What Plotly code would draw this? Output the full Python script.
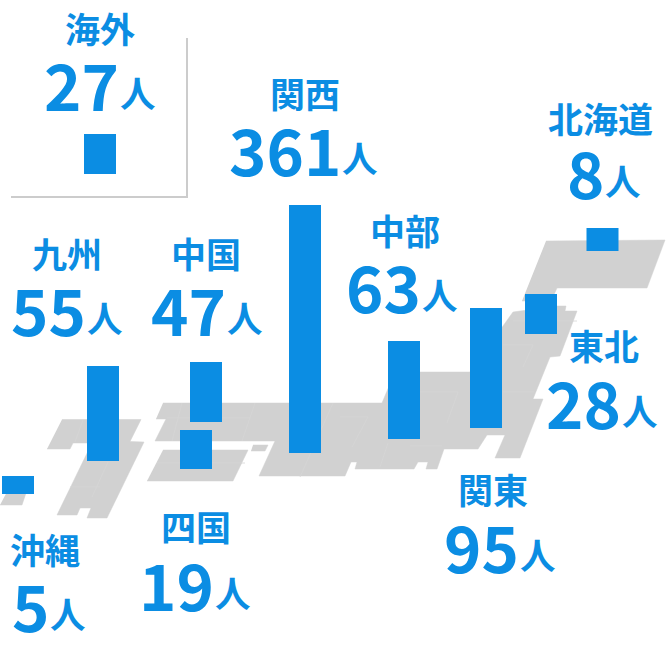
import plotly.graph_objects as go

# --- data -------------------------------------------------------------
regions = ["海外", "関西", "北海道", "東北", "関東", "中部", "中国", "四国", "九州", "沖縄"]
counts = [27, 361, 8, 28, 95, 63, 47, 19, 55, 5]
# bar heights as drawn in the picture (not linear in the counts)
bar_heights = [40, 248, 23, 40, 120, 98, 60, 39, 95, 18]

# --- placement --------------------------------------------------------
bar_centres = [100, 305, 602.5, 541, 486, 404, 206, 196, 103, 18]
bar_feet = [174, 453, 251, 334, 428, 439, 422, 469, 461, 494]
name_centres = [99.5, 305, 600.5, 603.5, 492.5, 404.5, 205.5, 195.5, 66.5, 44.5]
name_ys = [27.5, 92.5, 117.5, 344.5, 488.5, 229.5, 252.5, 525.5, 252.5, 548.5]
num_rights = [119, 340.5, 604, 621, 519, 421, 226, 214, 86, 49]
num_ys = [83, 148, 171, 401, 545, 285, 308, 583, 308, 604]

BLUE = "#0b8de3"
GREY = "#d1d1d1"
EDGE = "#d6d6d6"

kyushu_x = [62, 141, 130, 144, 107, 87, 91, 80, 77, 57, 92, 73, 70, 47]
kyushu_y = [419.5, 419.5, 441.5, 442, 518, 518, 508, 508, 515, 515, 443, 443, 449, 449]
okinawa_x = [8, 27, 22, 0]
okinawa_y = [490, 490, 505, 505]
shikoku_x = [163, 248, 233, 147]
shikoku_y = [450, 450, 481, 481]
awaji_x = [253, 268, 265, 251]
awaji_y = [445, 445, 451, 451]
hokkaido_x = [546, 665, 647, 557, 551, 522]
hokkaido_y = [241, 240, 288, 288, 301, 301]
honshu_x = [163, 382, 395, 470, 513, 557, 566, 565, 577, 560, 550, 533, 543, 520, 495, 505, 487, 478,
            444, 437, 426, 428, 418, 414, 355, 357, 351, 345, 259, 275, 155, 166, 156]
honshu_y = [403, 403, 372, 372, 312, 306, 306, 311, 311, 356, 357, 399, 399, 458, 458, 435, 435, 449,
            449, 469, 469, 462, 462, 469, 469, 462, 462, 476, 476, 441, 441, 419, 419]
seam_x = [340, 368, 352, None, 420, 458, 447, None, 388, 380, None, 410, 442, None,
          83, 75, None, 108, 92, None, 70, 100, None, 182, 172, None, 255, 242, None,
          167, 250, None, 157, 245, None, 333, 300, None, 513, 577, None, 503, 533, 523, None, 503, 534]
seam_y = [417, 417, 447, None, 392, 392, 423, None, 443, 467, None, 446, 446, None,
          420, 442, None, 462, 497, None, 487, 487, None, 403, 441, None, 403, 441, None,
          418, 418, None, 463, 463, None, 403, 477, None, 321, 321, None, 345, 345, 367, None, 392, 392]

fig = go.Figure()
for mx, my in [(kyushu_x, kyushu_y), (okinawa_x, okinawa_y), (shikoku_x, shikoku_y),
               (awaji_x, awaji_y), (hokkaido_x, hokkaido_y), (honshu_x, honshu_y)]:
    fig.add_trace(go.Scatter(x=mx, y=my, mode="lines", fill="toself", fillcolor=GREY,
                             line=dict(color=GREY, width=0.5), hoverinfo="skip", showlegend=False))
fig.add_trace(go.Scatter(x=seam_x, y=seam_y, mode="lines", line=dict(color=EDGE, width=0.8),
                         hoverinfo="skip", showlegend=False))

# bars sit on an overlaying axis pair so they draw above the map
fig.add_trace(go.Bar(x=bar_centres, y=[-h for h in bar_heights], base=bar_feet, width=32,
                     xaxis="x2", yaxis="y2",
                     marker=dict(color=BLUE, line=dict(width=0)), customdata=counts,
                     hovertext=regions, showlegend=False))

font = "Noto Sans CJK JP"
ann = []
for name, n, nx, ny, rx, vy in zip(regions, counts, name_centres, name_ys, num_rights, num_ys):
    ann.append(dict(x=nx, y=ny, text=f"<b>{name}</b>", xanchor="center", yanchor="middle",
                    font=dict(family=font, size=35, color=BLUE)))
    ann.append(dict(x=rx, y=vy, text=f"<b>{n}</b>", xanchor="right", yanchor="middle",
                    font=dict(family=font, size=63.5, color=BLUE)))
    ann.append(dict(x=rx + 1, y=vy + 8, text="<b>人</b>", xanchor="left", yanchor="middle",
                    font=dict(family=font, size=35.5, color=BLUE)))
for a in ann:
    a.update(xref="x", yref="y", showarrow=False, borderpad=0, borderwidth=0)

fig.update_layout(
    width=666, height=654, margin=dict(l=0, r=0, t=0, b=0),
    paper_bgcolor="white", plot_bgcolor="white", showlegend=False,
    xaxis=dict(range=[0, 666], visible=False, fixedrange=True),
    yaxis=dict(range=[654, 0], visible=False, fixedrange=True),
    xaxis2=dict(range=[0, 666], visible=False, fixedrange=True, overlaying="x", matches="x"),
    yaxis2=dict(range=[654, 0], visible=False, fixedrange=True, overlaying="y", matches="y"),
    annotations=ann,
    shapes=[
        dict(type="line", xref="x", yref="y", x0=187, x1=187, y0=38, y1=198, line=dict(color="#cccccc", width=2)),
        dict(type="line", xref="x", yref="y", x0=11, x1=188, y0=197, y1=197, line=dict(color="#cccccc", width=2)),
    ],
)
fig.write_html("out.html", config={"displayModeBar": False},
               post_script="document.body.style.margin='0';document.documentElement.style.overflow='hidden';")
